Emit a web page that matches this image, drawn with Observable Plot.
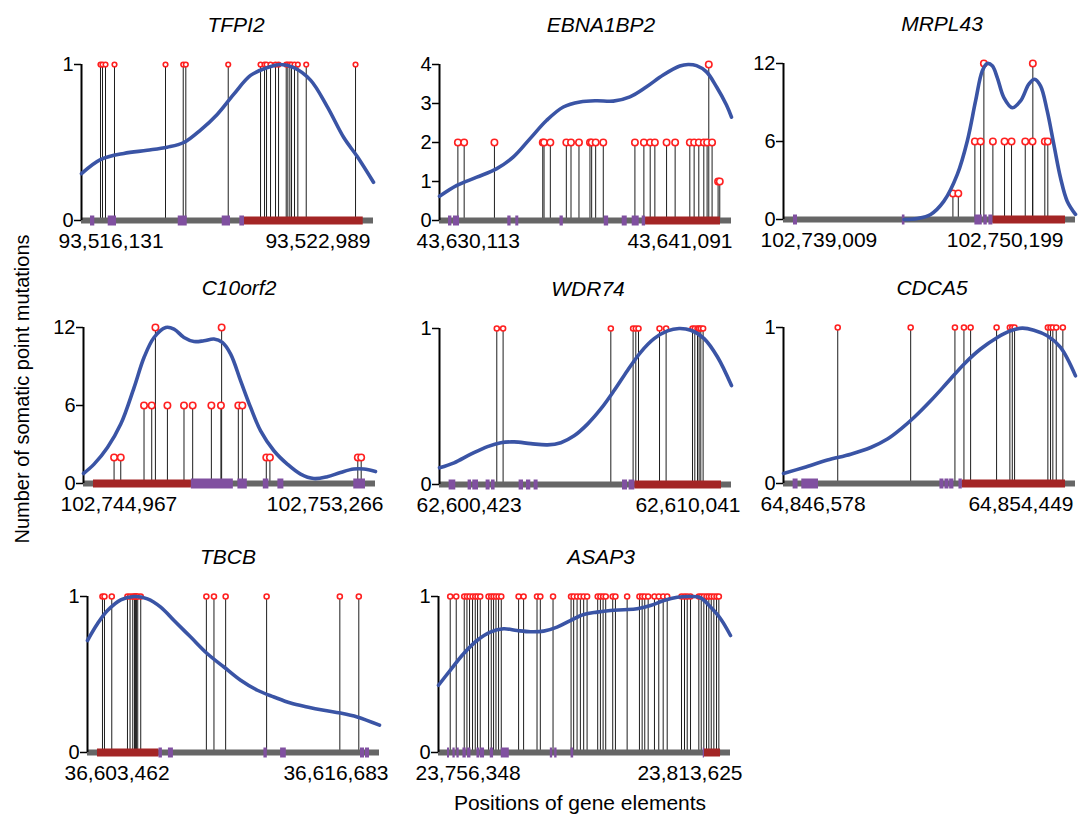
<!DOCTYPE html>
<html><head><meta charset="utf-8">
<script src="https://cdn.jsdelivr.net/npm/d3@7"></script>
<script src="https://cdn.jsdelivr.net/npm/@observablehq/plot@0.6"></script>
<style>
body{margin:0;background:#fff;}
#root{position:relative;width:1078px;height:819px;overflow:hidden;font-family:"Liberation Sans",Arial,Helvetica,sans-serif;color:#000;}
.panel{position:absolute;}
.panel svg{overflow:visible;max-width:none !important;}
.title{position:absolute;font-style:italic;font-size:21px;transform:translate(-50%,-50%);white-space:nowrap;}
.ylab{position:absolute;left:22px;top:389px;font-size:20px;white-space:nowrap;transform:translate(-50%,-50%) rotate(-90deg);}
.xlab{position:absolute;left:580px;top:803px;font-size:21px;white-space:nowrap;transform:translate(-50%,-50%);}
</style></head><body><div id="root"></div>
<script>
// ---------- DATA ----------
const genes = ["TFPI2","EBNA1BP2","MRPL43","C10orf2","WDR74","CDCA5","TBCB","ASAP3"];
const startPos = [93516131, 43630113, 102739009, 102744967, 62600423, 64846578, 36603462, 23756348];
const endPos   = [93522989, 43641091, 102750199, 102753266, 62610041, 64854449, 36616683, 23813625];
const yMax = [1, 4, 12, 12, 1, 1, 1, 1];
const yTicks = [[0,1],[0,1,2,3,4],[0,6,12],[0,6,12],[0,1],[0,1],[0,1],[0,1]];

// TFPI2
const tfpi2MutPos = [93516577,93516624,93516695,93516906,93518104,93518520,93518581,93519577,93520336,93520430,93520477,93520571,93520688,93520759,93520939,93520977,93521024,93521064,93521134,93521212,93521409,93522567];
const tfpi2MutCount = [1,1,1,1,1,1,1,1,1,1,1,1,1,1,1,1,1,1,1,1,1,1];
const tfpi2Purple = [[93516342,93516443],[93516758,93516953],[93518403,93518614],[93519436,93519631],[93519850,93519960]];
const tfpi2Red = [[93519960,93522748]];
const tfpi2CurvePos = [93516131,93516577,93517125,93517674,93518144,93518534,93518926,93519318,93519709,93520101,93520493,93520806,93521118,93521510,93521902,93522294,93522607,93522989];
const tfpi2CurveVal = [0.30,0.39,0.43,0.45,0.47,0.50,0.58,0.68,0.81,0.93,0.98,1.0,0.98,0.90,0.73,0.53,0.41,0.245];

// EBNA1BP2
const ebnaMutPos = [43630804,43631040,43632178,43633995,43634043,43634280,43634881,43635057,43635357,43635770,43635834,43635984,43636270,43637460,43637797,43638034,43638210,43638650,43638972,43639524,43639686,43639862,43640050,43640174,43640361,43640237,43640587,43640650];
const ebnaMutCount = [2,2,2,2,2,2,2,2,2,2,2,2,2,2,2,2,2,2,2,2,2,2,2,2,2,4,1,1];
const ebnaPurple = [[43630451,43630578],[43630639,43630864],[43632681,43632805],[43632981,43633094],[43634644,43634768],[43636307,43636472],[43636983,43637171],[43637358,43637621],[43637734,43637861]];
const ebnaRed = [[43637861,43640677]];
const ebnaCurvePos = [43630113,43630766,43631517,43632268,43632891,43633518,43634145,43634768,43635394,43636022,43636645,43637272,43637899,43638522,43639149,43639460,43639776,43640151,43640526,43640902,43641091];
const ebnaCurveVal = [0.62,0.90,1.11,1.33,1.63,2.10,2.57,2.91,3.04,3.07,3.06,3.17,3.43,3.73,3.96,4.0,3.97,3.81,3.43,2.96,2.65];

// MRPL43
const mrplMutPos = [102745501,102745708,102746343,102746562,102747033,102747480,102747748,102748273,102748552,102749023,102749138,102746688,102748564];
const mrplMutCount = [2,2,6,6,6,6,6,6,6,6,6,12,12];
const mrplPurple = [[102739392,102739545],[102743564,102743664],[102746343,102746627],[102746688,102746818],[102746879,102747033]];
const mrplRed = [[102747033,102749816]];
const mrplCurvePos = [102743626,102744139,102744648,102745157,102745670,102746053,102746370,102746627,102746818,102747010,102747201,102747454,102747775,102748093,102748411,102748629,102748858,102749115,102749368,102749624,102749881,102750199];
const mrplCurveVal = [0.0,0.08,0.39,1.41,3.47,6.04,9.12,11.43,12.0,11.82,10.92,9.38,8.60,9.12,10.41,10.79,10.28,8.35,5.78,3.21,1.41,0.39];

// C10orf2
const c10MutPos = [102745836,102746026,102750162,102750265,102752763,102752859,102746687,102746906,102747352,102747823,102748070,102748601,102748873,102749367,102749481,102747011,102748893];
const c10MutCount = [2,2,2,2,2,2,6,6,6,6,6,6,6,6,6,12,12];
const c10Purple = [[102748033,102749226],[102749356,102749623],[102750077,102750236],[102750492,102750662],[102752649,102752981]];
const c10Red = [[102745251,102748033]];
const c10CurvePos = [102744967,102745268,102745648,102746026,102746404,102746687,102746971,102747304,102747539,102747823,102748107,102748391,102748675,102748913,102749149,102749433,102749717,102750001,102750378,102750759,102751137,102751513,102751894,102752271,102752649,102752933,102753266];
const c10CurveVal = [0.77,1.49,2.77,4.57,7.38,9.69,11.23,12.0,11.88,11.23,10.92,10.98,11.11,10.85,9.95,7.9,5.85,4.05,2.52,1.49,0.72,0.38,0.52,0.85,1.11,1.11,0.92];

// WDR74
const wdrMutPos = [62602310,62602518,62606066,62606800,62606889,62606978,62607670,62607887,62608757,62608833,62608922,62608974,62609030,62609106];
const wdrMutCount = [1,1,1,1,1,1,1,1,1,1,1,1,1,1];
const wdrPurple = [[62600739,62600960],[62601365,62601477],[62601520,62601708],[62601958,62602090],[62602136,62602254],[62603045,62603190],[62603289,62603430],[62603539,62603671],[62606451,62606616],[62606668,62606856]];
const wdrRed = [[62606856,62609712]];
const wdrCurvePos = [62600423,62600904,62601454,62602004,62602442,62602880,62603430,62603980,62604419,62604857,62605298,62605736,62606174,62606616,62607054,62607492,62607933,62608315,62608701,62609139,62609580,62610041];
const wdrCurveVal = [0.107,0.139,0.194,0.243,0.268,0.273,0.262,0.254,0.268,0.312,0.387,0.484,0.602,0.731,0.849,0.935,0.985,1.0,0.989,0.935,0.817,0.634];

// CDCA5
const cdcaMutPos = [64848040,64850006,64851199,64851442,64851622,64852322,64852680,64852745,64852807,64853704,64853776,64853838,64853930,64854108];
const cdcaMutCount = [1,1,1,1,1,1,1,1,1,1,1,1,1,1];
const cdcaPurple = [[64846837,64846971],[64847071,64847521],[64850795,64850903],[64850930,64851038],[64851056,64851172],[64851307,64851398]];
const cdcaRed = [[64851398,64854180]];
const cdcaCurvePos = [64846578,64847133,64847763,64848390,64848929,64849379,64849737,64850095,64850545,64850994,64851442,64851891,64852341,64852699,64853014,64853327,64853688,64854046,64854449];
const cdcaCurveVal = [0.064,0.103,0.15,0.188,0.231,0.285,0.349,0.423,0.530,0.647,0.765,0.862,0.936,0.979,0.996,0.983,0.947,0.872,0.690];

// TBCB
const tbcbMutPos = [36604140,36604231,36604561,36605271,36605389,36605511,36605588,36605633,36605678,36605737,36605873,36608844,36609188,36609717,36611572,36614887,36615746];
const tbcbMutCount = [1,1,1,1,1,1,1,1,1,1,1,1,1,1,1,1,1];
const tbcbPurple = [[36606700,36606854],[36607126,36607352],[36611450,36611603],[36612205,36612463],[36615823,36616004],[36616050,36616230]];
const tbcbRed = [[36603914,36606700]];
const tbcbCurvePos = [36603462,36603914,36604367,36604968,36605570,36606176,36606777,36607379,36608134,36608890,36609640,36610396,36611151,36611902,36612657,36613413,36614163,36614919,36615674,36616683];
const tbcbCurveVal = [0.718,0.825,0.910,0.979,1.0,0.985,0.932,0.846,0.740,0.633,0.548,0.463,0.399,0.356,0.317,0.292,0.271,0.253,0.228,0.175];

// ASAP3
const asapMutPos = [23758646,23759824,23761395,23761926,23762436,23763026,23763556,23764008,23764538,23766168,23766698,23767150,23767621,23768132,23768662,23772060,23773042,23775674,23776322,23778816,23782351,23782862,23783530,23784178,23784826,23785494,23787576,23788105,23788636,23789147,23790522,23791052,23793350,23795765,23796296,23796806,23797474,23798711,23799556,23800420,23801206,23804014,23804603,23805134,23805782,23807412,23807883,23808394,23808924,23809376,23809847,23810358,23810888,23811340];
const asapMutCount = asapMutPos.map(() => 1);
const asapPurple = [[23758116,23758508],[23759176,23759628],[23759962,23760413],[23761140,23761788],[23762044,23762711],[23763890,23764400],[23764538,23765382],[23766502,23767150],[23768662,23770233],[23778286,23778738],[23779130,23779602],[23782351,23782862],[23808276,23808531]];
const asapRed = [[23808531,23811674]];
const asapCurvePos = [23756348,23758646,23761258,23763890,23766502,23769114,23771746,23774358,23776970,23779602,23782214,23784826,23787458,23790070,23792682,23795314,23797926,23800538,23803170,23805782,23807746,23809710,23811674,23813625];
const asapCurveVal = [0.431,0.527,0.633,0.718,0.772,0.793,0.782,0.774,0.778,0.804,0.846,0.885,0.900,0.910,0.915,0.921,0.942,0.974,0.995,1.0,0.992,0.932,0.857,0.750];

const mutPos = [tfpi2MutPos, ebnaMutPos, mrplMutPos, c10MutPos, wdrMutPos, cdcaMutPos, tbcbMutPos, asapMutPos];
const mutCount = [tfpi2MutCount, ebnaMutCount, mrplMutCount, c10MutCount, wdrMutCount, cdcaMutCount, tbcbMutCount, asapMutCount];
const purpleEl = [tfpi2Purple, ebnaPurple, mrplPurple, c10Purple, wdrPurple, cdcaPurple, tbcbPurple, asapPurple];
const redEl = [tfpi2Red, ebnaRed, mrplRed, c10Red, wdrRed, cdcaRed, tbcbRed, asapRed];
const curvePos = [tfpi2CurvePos, ebnaCurvePos, mrplCurvePos, c10CurvePos, wdrCurvePos, cdcaCurvePos, tbcbCurvePos, asapCurvePos];
const curveVal = [tfpi2CurveVal, ebnaCurveVal, mrplCurveVal, c10CurveVal, wdrCurveVal, cdcaCurveVal, tbcbCurveVal, asapCurveVal];

// ---------- LAYOUT (pixels) ----------
const frameLeft = [81, 439, 783, 83, 439, 783, 87, 438];
const frameTop  = [64, 64, 63, 327, 328, 327, 596, 596];
const titleX = [236, 601, 942, 239, 588, 932, 228, 601];
const rightDx = [-3, 1, -12, 8, 9, -2, 9, 12];
const dotR = [2.3, 3.2, 3.2, 3.2, 2.5, 2.5, 2.5, 2.5];
const ML = 40, MR = 30, MT = 8, MB = 36, PW = 292, PH = 156;
const FONT = '"Liberation Sans", Arial, Helvetica, sans-serif';

const root = document.getElementById("root");
const fmt = d3.format(",");

genes.forEach((g, i) => {
  const muts = mutPos[i].map((p, j) => ({pos: p, n: mutCount[i][j]}));
  const curve = curvePos[i].map((p, j) => ({pos: p, v: curveVal[i][j]}));
  const W = ML + PW + MR, H = MT + PH + MB;
  const chart = Plot.plot({
    width: W, height: H,
    marginLeft: ML, marginRight: MR, marginTop: MT, marginBottom: MB,
    x: {domain: [startPos[i], endPos[i]], axis: null},
    y: {domain: [0, yMax[i]], axis: null},
    style: {fontFamily: FONT, fontSize: "21px", background: "transparent", color: "#000", overflow: "visible", maxWidth: "none"},
    marks: [
      Plot.ruleX(muts, {x: "pos", y1: 0, y2: "n", stroke: "#1e1e1e", strokeWidth: 1}),
      Plot.ruleY([0], {x1: startPos[i], x2: endPos[i], stroke: "#666666", strokeWidth: 6}),
      Plot.ruleY(redEl[i], {y: 0, x1: d => d[0], x2: d => d[1], stroke: "#a32525", strokeWidth: 8}),
      Plot.ruleY(purpleEl[i], {y: 0, x1: d => d[0], x2: d => d[1], stroke: "#8050a0", strokeWidth: 10}),
      Plot.ruleX([startPos[i]], {y1: 0, y2: yMax[i], stroke: "#000", strokeWidth: 2}),
      Plot.axisY({ticks: yTicks[i], tickSize: 7, tickPadding: 1, fontSize: 20, stroke: "#000", strokeWidth: 1.5, fill: "#000", tickFormat: d => String(d)}),
      Plot.dot(muts, {x: "pos", y: "n", r: dotR[i], stroke: "#ff2020", fill: "#fff", strokeWidth: 1.6}),
      Plot.line(curve, {x: "pos", y: "v", stroke: "#3a54a5", strokeWidth: 3.6, curve: "catmull-rom"}),
      Plot.text([startPos[i]], {x: d => d, y: 0, text: d => fmt(d), textAnchor: "start", lineAnchor: "top", dx: -23, dy: 13, fontSize: 21, fill: "#000"}),
      Plot.text([endPos[i]], {x: d => d, y: 0, text: d => fmt(d), textAnchor: "end", lineAnchor: "top", dx: rightDx[i], dy: 13, fontSize: 21, fill: "#000"})
    ]
  });
  const wrap = document.createElement("div");
  wrap.className = "panel";
  wrap.style.left = (frameLeft[i] - ML) + "px";
  wrap.style.top = (frameTop[i] - MT) + "px";
  wrap.style.width = W + "px";
  wrap.style.height = H + "px";
  wrap.appendChild(chart);
  root.appendChild(wrap);

  const t = document.createElement("div");
  t.className = "title";
  t.textContent = g;
  t.style.left = titleX[i] + "px";
  t.style.top = (frameTop[i] - 39) + "px";
  root.appendChild(t);
});

const yl = document.createElement("div");
yl.className = "ylab";
yl.textContent = "Number of somatic point mutations";
root.appendChild(yl);
const xl = document.createElement("div");
xl.className = "xlab";
xl.textContent = "Positions of gene elements";
root.appendChild(xl);
</script></body></html>
